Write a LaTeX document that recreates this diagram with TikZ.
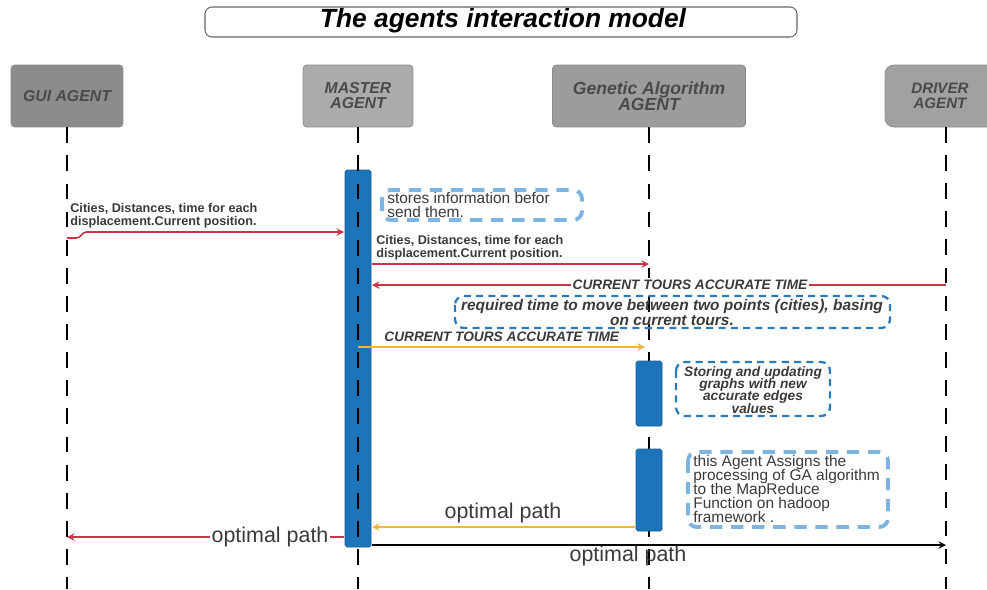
\documentclass[tikz,border=0pt]{standalone}
\usepackage{fontspec}
\setmainfont{Liberation Sans}
\definecolor{agentgray}{HTML}{9C9C9C}
\definecolor{guigray}{HTML}{8C8C8C}
\definecolor{agenttext}{HTML}{4A4A4A}
\definecolor{barblue}{HTML}{1C74B9}
\definecolor{msgred}{HTML}{CC3344}
\definecolor{msgorange}{HTML}{F2B440}
\definecolor{notelight}{HTML}{7DB4E2}
\definecolor{notedark}{HTML}{2B7BBA}
\definecolor{labelgray}{HTML}{3A3A3A}
\lineskiplimit=-6pt
\lineskip=0pt
\begin{document}
\begin{tikzpicture}[x=0.02cm,y=-0.02cm,line join=round,>=stealth,
    agent/.style={draw=black!45,fill=agentgray,rounded corners=2pt,text=agenttext,align=center,font=\fontsize{9}{8.5}\selectfont\bfseries\itshape},
    lifeline/.style={line width=1.1pt,dash pattern=on 9pt off 7pt},
    actbar/.style={fill=barblue,draw=barblue!80!black,rounded corners=1pt},
    lightnote/.style={draw=notelight,line width=2.2pt,dash pattern=on 7pt off 5pt,rounded corners=5pt},
    darknote/.style={draw=notedark,line width=1.3pt,dash pattern=on 4pt off 3pt,rounded corners=5pt},
    redmsg/.style={draw=msgred,line width=0.9pt,->},
    orangemsg/.style={draw=msgorange,line width=0.9pt,->},
    msglabel/.style={text=labelgray,align=left,inner sep=0pt,font=\fontsize{7.2}{7.4}\selectfont\bfseries},
    caplabel/.style={text=labelgray,inner sep=1pt,font=\fontsize{7.8}{9}\selectfont\bfseries\itshape},
    pathlabel/.style={text=labelgray,inner sep=1pt,font=\fontsize{12.2}{13}\selectfont}]
    \useasboundingbox (0,0) rectangle (987,589);
    \clip (0,0) rectangle (987,589);
    % title
    \draw[rounded corners=4pt,draw=black!60,line width=0.6pt] (205,7) rectangle (797,37);
    \node (title) at (503,21) {\fontsize{15}{16}\selectfont\bfseries\itshape The agents interaction model};
    % agents
    \node[agent,fill=guigray,minimum width=2.24cm,minimum height=1.24cm] (gui) at (67,96) {GUI AGENT};
    \node[agent,fill=agentgray!85,minimum width=2.2cm,minimum height=1.24cm] (master) at (358,96) {MASTER\\AGENT};
    \node[agent,minimum width=3.86cm,minimum height=1.24cm,font=\fontsize{10}{8.8}\selectfont\bfseries\itshape] (ga) at (649,96) {Genetic Algorithm\\AGENT};
    \draw[draw=black!45,fill=agentgray!95,rounded corners=5pt] (885,65) rectangle (1010,127);
    \node[text=agenttext,align=center,font=\fontsize{8.6}{8.5}\selectfont\bfseries\itshape] (driver) at (940,96) {DRIVER\\AGENT};
    % lifelines
    \coordinate (guiend) at (67,589);
    \coordinate (masterend) at (358,589);
    \coordinate (gaend) at (649,589);
    \coordinate (drivertop) at (946,127);
    \coordinate (driverend) at (946,589);
    \draw[lifeline] (gui.south) -- (guiend);
    \draw[lifeline] (ga.south) -- (gaend);
    \draw[lifeline] (drivertop) -- (driverend);
    % activation bars
    \draw[actbar] (345,170) rectangle (371,547);
    \draw[actbar] (636,361) rectangle (662,426);
    \draw[actbar] (636,449) rectangle (662,531);
    \draw[lifeline] (master.south) -- (masterend);
    % notes
    \draw[lightnote] (382,190) rectangle (582,220);
    \node[anchor=west,align=left,inner sep=0pt,text=labelgray,font=\fontsize{8.8}{8}\selectfont] (storenote) at (387,205) {stores information befor\\send them.};
    \draw[darknote] (455,296) rectangle (890,328);
    \node[align=center,inner sep=0pt,text=labelgray,font=\fontsize{8.8}{8.5}\selectfont\bfseries\itshape] (timenote) at (672,312) {required time to move between two points (cities), basing\\on current tours.};
    \draw[darknote] (676,362) rectangle (830,416);
    \node[align=center,inner sep=0pt,text=labelgray,font=\fontsize{7.8}{6.9}\selectfont\bfseries\itshape] (graphnote) at (753,390) {Storing and updating\\graphs with new\\accurate edges\\values};
    \draw[lightnote] (688,452) rectangle (888,527);
    \node[anchor=west,align=left,inner sep=0pt,text=labelgray,font=\fontsize{8.8}{7.9}\selectfont] (hadoopnote) at (693,489) {this Agent Assigns the\\processing of GA algorithm\\to the MapReduce\\Function on hadoop\\framework .};
    % messages
    \coordinate (m1a) at (67,238);
    \coordinate (m1b) at (344,232);
    \draw[redmsg,rounded corners=2pt] (m1a) -- (80,238) -- (83,232) -- (m1b);
    \node[msglabel,anchor=west] (m1l) at (70,216) {Cities, Distances, time for each\\displacement.Current position.};
    \coordinate (m2a) at (372,264);
    \coordinate (m2b) at (649,264);
    \draw[redmsg] (m2a) -- (m2b);
    \node[msglabel,anchor=west] (m2l) at (376,248) {Cities, Distances, time for each\\displacement.Current position.};
    \coordinate (m3a) at (946,285);
    \coordinate (m3b) at (372,285);
    \draw[redmsg] (m3a) -- node[caplabel,fill=white,pos=0.446] (m3l) {CURRENT TOURS ACCURATE TIME} (m3b);
    \coordinate (m4a) at (358,347);
    \coordinate (m4b) at (645,347);
    \draw[orangemsg] (m4a) -- (m4b);
    \node[caplabel,anchor=west,inner sep=0pt] (m4l) at (384,337) {CURRENT TOURS ACCURATE TIME};
    \coordinate (m5a) at (636,527);
    \coordinate (m5b) at (372,527);
    \draw[orangemsg] (m5a) -- (m5b);
    \node[pathlabel] (m5l) at (503,513) {optimal path};
    \coordinate (m6a) at (344,537);
    \coordinate (m6b) at (67,537);
    \draw[redmsg] (m6a) -- node[pathlabel,fill=white,pos=0.267] (m6l) {optimal path} (m6b);
    \coordinate (m7a) at (372,545);
    \coordinate (m7b) at (946,545);
    \draw[line width=0.9pt,->] (m7a) -- (m7b);
    \node[pathlabel] (m7l) at (628,556) {optimal path};
\end{tikzpicture}
\end{document}
